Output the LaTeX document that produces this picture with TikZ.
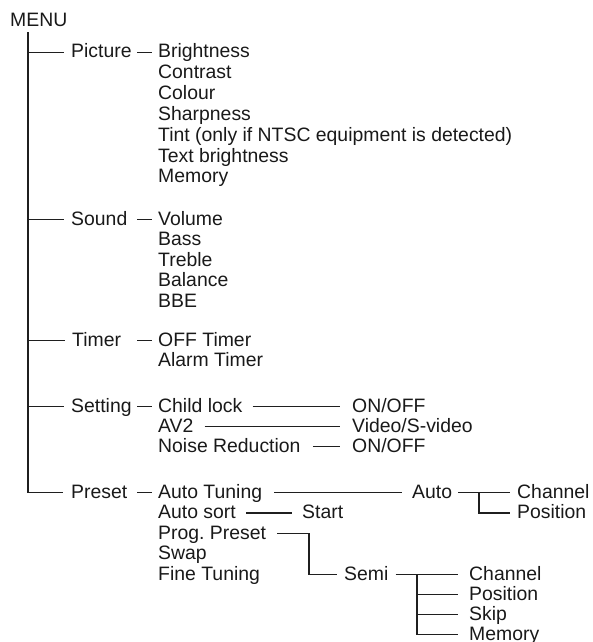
\documentclass[tikz,border=0pt]{standalone}
\usepackage{fontspec}
\setmainfont{Liberation Sans}
\begin{document}
\begin{tikzpicture}[x=1pt,y=-1pt,
  lbl/.style={anchor=base west,inner sep=0pt,text height=14pt,text depth=3pt,
    font=\fontsize{19.4}{20.6}\selectfont,text=black!90},
  conn/.style={line width=1.5pt,draw=black!88}]
\useasboundingbox (0,0) rectangle (592,642);
% level 0
\node[lbl] (menu) at (10,27) {MENU};
% level 1
\node[lbl] (picture) at (71,58) {Picture};
\node[lbl] (sound) at (71,225) {Sound};
\node[lbl] (timer) at (72,346) {Timer};
\node[lbl] (setting) at (71,412) {Setting};
\node[lbl] (preset) at (71,498) {Preset};
% picture items
\node[lbl] (bright) at (158,58) {Brightness};
\node[lbl] (contrast) at (158,78.8) {Contrast};
\node[lbl] (colour) at (158,99.6) {Colour};
\node[lbl] (sharp) at (158,120.4) {Sharpness};
\node[lbl] (tint) at (158,141.2) {Tint (only if NTSC equipment is detected)};
\node[lbl] (textbr) at (158,162) {Text brightness};
\node[lbl] (pmem) at (158,182.8) {Memory};
% sound items
\node[lbl] (volume) at (158,225) {Volume};
\node[lbl] (bass) at (158,245.5) {Bass};
\node[lbl] (treble) at (158,266) {Treble};
\node[lbl] (balance) at (158,286.5) {Balance};
\node[lbl] (bbe) at (158,307) {BBE};
% timer items
\node[lbl] (offt) at (158,346) {OFF Timer};
\node[lbl] (alarm) at (158,366.5) {Alarm Timer};
% setting items
\node[lbl] (child) at (158,412) {Child lock};
\node[lbl] (avtwo) at (158,432) {AV2};
\node[lbl] (noise) at (158,452) {Noise Reduction};
\node[lbl] (onoffa) at (352,412) {ON/OFF};
\node[lbl] (video) at (352,432) {Video/S-video};
\node[lbl] (onoffb) at (352,452) {ON/OFF};
% preset items
\node[lbl] (autotun) at (158,498) {Auto Tuning};
\node[lbl] (autosort) at (158,518.5) {Auto sort};
\node[lbl] (prog) at (158,539) {Prog.\ Preset};
\node[lbl] (swap) at (158,559.5) {Swap};
\node[lbl] (fine) at (158,580) {Fine Tuning};
\node[lbl] (start) at (302,518.5) {Start};
\node[lbl] (auto) at (412,498) {Auto};
\node[lbl] (ach) at (517,498) {Channel};
\node[lbl] (apos) at (517,518.5) {Position};
\node[lbl] (semi) at (344,580) {Semi};
\node[lbl] (sch) at (469,580) {Channel};
\node[lbl] (spos) at (469,600) {Position};
\node[lbl] (sskip) at (469,620) {Skip};
\node[lbl] (smem) at (469,640) {Memory};
% trunk
\coordinate (trunk) at ([xshift=18pt,yshift=-2pt]menu.south west);
\draw[conn] (trunk) |- ([xshift=-8pt]preset.west);
\foreach \n in {picture,sound,timer,setting}
  \draw[conn] (trunk |- \n.west) -- ([xshift=-7pt]\n.west);
% dashes to first items
\foreach \n in {bright,volume,offt,child,autotun}
  \draw[conn] ([xshift=-21pt]\n.west) -- ([xshift=-6pt]\n.west);
% setting values
\draw[conn] ([xshift=10pt]child.east) -- ([xshift=-12pt]onoffa.west);
\draw[conn] ([xshift=11pt]avtwo.east) -- ([xshift=-12pt]video.west);
\draw[conn] ([xshift=12pt]noise.east) -- ([xshift=-12pt]onoffb.west);
% preset branches
\draw[conn] ([xshift=12pt]autotun.east) -- ([xshift=-10pt]auto.west);
\draw[conn] ([xshift=10pt]autosort.east) -- ([xshift=-10pt]start.west);
\draw[conn] ([xshift=6pt]auto.east) -- ([xshift=-7pt]ach.west);
\draw[conn] ([xshift=-38pt]ach.west) |- ([xshift=-7pt]apos.west);
\draw[conn] ([xshift=11pt]prog.east) -- ++(32pt,0) |- ([xshift=-7pt]semi.west);
\draw[conn] ([xshift=7pt]semi.east) -- ([xshift=-11pt]sch.west);
\foreach \n in {spos,sskip,smem}
  \draw[conn] ([xshift=-52pt]sch.west) |- ([xshift=-11pt]\n.west);
\end{tikzpicture}
\end{document}
